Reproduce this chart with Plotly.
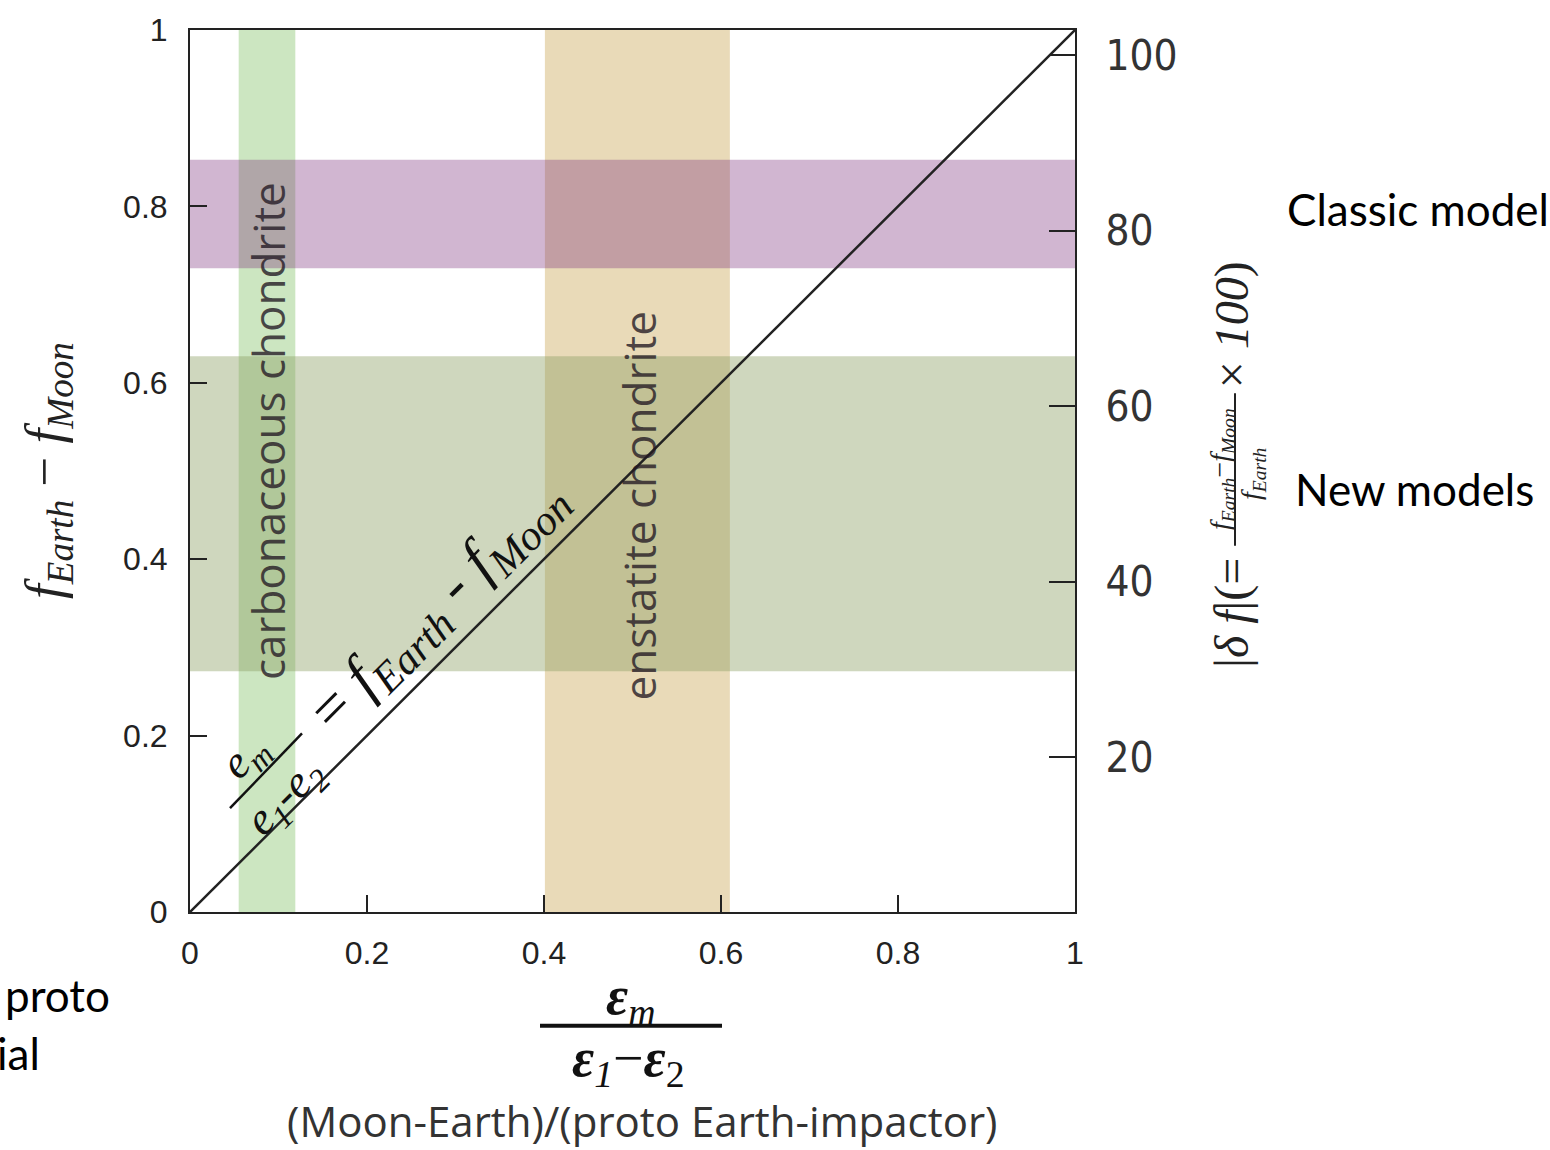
import plotly.graph_objects as go

# ---------------- data ----------------
line_x = [0, 1]
line_y = [0, 1]

vband_labels = ["carbonaceous chondrite", "enstatite chondrite"]
vband_x0 = [0.055, 0.401]
vband_x1 = [0.119, 0.610]
vband_colors = ["#cce6c1", "#e9dab8"]
vband_label_y = [0.545, 0.46]

hband_labels = ["Classic model", "New models"]
hband_y0 = [0.730, 0.273]
hband_y1 = [0.853, 0.630]
hband_colors = ["rgba(124,46,124,0.35)", "rgba(141,160,100,0.42)"]

left_ticks = [0, 0.2, 0.4, 0.6, 0.8, 1]
left_ticklabels = ["0", "0.2", "0.4", "0.6", "0.8", "1"]
bottom_ticks = [0, 0.2, 0.4, 0.6, 0.8, 1]
bottom_ticklabels = ["0", "0.2", "0.4", "0.6", "0.8", "1"]
right_ticks = [20, 40, 60, 80, 100]
right_ticklabels = ["20", "40", "60", "80", "100"]

W, H = 1550, 1150
L, R, T, B = 190, 1075, 28, 912


def px(xp):
    return (xp - L) / (R - L)


def py(yp):
    return (B - yp) / (B - T)


SERIF = "Liberation Serif, Times New Roman, serif"
NARROW = "Liberation Sans Narrow, DejaVu Sans Condensed, Arial Narrow, sans-serif"
SANS = "Open Sans, Liberation Sans, sans-serif"
CAL = "Lato, Open Sans, sans-serif"


def ann(x, y, text, size, family, color="#222", ref="paper", angle=0, xanchor="center"):
    return dict(x=x, y=y, xref=ref, yref=ref, text=text, textangle=angle,
                showarrow=False, xanchor=xanchor, yanchor="middle",
                font=dict(family=family, size=size, color=color))


fig = go.Figure()

fig.add_trace(go.Scatter(x=line_x, y=line_y, mode="lines",
                         line=dict(color="#222222", width=2.5),
                         hoverinfo="skip", showlegend=False))
fig.add_trace(go.Scatter(x=[1] * len(right_ticks), y=right_ticks, mode="markers",
                         marker=dict(opacity=0), yaxis="y2",
                         hoverinfo="skip", showlegend=False))

shapes = []
for x0, x1, c in zip(vband_x0, vband_x1, vband_colors):
    shapes.append(dict(type="rect", xref="x", yref="y", x0=x0, x1=x1, y0=0, y1=1,
                       fillcolor=c, line=dict(width=0), layer="below"))
for y0, y1, c in zip(hband_y0, hband_y1, hband_colors):
    shapes.append(dict(type="rect", xref="x", yref="y", x0=0, x1=1, y0=y0, y1=y1,
                       fillcolor=c, line=dict(width=0), layer="below"))

annotations = []
# band labels (vertical)
for lab, x0, x1, yy in zip(vband_labels, vband_x0, vband_x1, vband_label_y):
    a = ann((x0 + x1) / 2 + 0.002, yy, lab, 44, SANS,
            color="rgba(35,25,35,0.78)", ref="x", angle=-90)
    a["yref"] = "y"
    annotations.append(a)

# model labels on right
annotations.append(ann(px(1285), py(207), hband_labels[0], 44, CAL, "black", xanchor="left"))
annotations.append(ann(px(1293), py(488), hband_labels[1], 44, CAL, "black", xanchor="left"))
# cut-off texts at bottom-left (cropped in the original figure too)
annotations.append(ann(px(112), py(995), "proto", 44, CAL, "black", xanchor="right"))
annotations.append(ann(px(42), py(1053), "ial", 44, CAL, "black", xanchor="right"))

# diagonal formula
a = ann(px(246), py(757), "<i>e</i><sub><i>m</i></sub>", 46, SERIF, "#111", ref="x", angle=-45)
a["yref"] = "y"
annotations.append(a)
a = ann(px(286), py(798), "<i>e</i><sub><i>1</i></sub>-<i>e</i><sub><i>2</i></sub>", 46, SERIF, "#111",
        ref="x", angle=-45)
a["yref"] = "y"
annotations.append(a)
shapes.append(dict(type="line", xref="x", yref="y", x0=px(230), y0=py(808), x1=px(302), y1=py(733),
                   line=dict(color="#111", width=2.5)))
a = ann(px(438), py(605), "= <i>f</i><sub><i>Earth</i></sub> - <i>f</i><sub><i>Moon</i></sub>",
        61, SERIF, "#111", ref="x", angle=-45)
a["yref"] = "y"
annotations.append(a)

# left y title
annotations.append(ann(px(48), py(470),
                       "<i>f</i><sub><i>Earth</i></sub> \u2212 <i>f</i><sub><i>Moon</i></sub>",
                       53, SERIF, "#222", angle=-90))

# right y title pieces
annotations.append(ann(px(1232), py(612), "|<i>\u03b4 f</i>|(=", 48, SERIF, "#222", angle=-90))
annotations.append(ann(px(1221), py(468),
                       "<i>f</i><sub><i>Earth</i></sub>\u2212<i>f</i><sub><i>Moon</i></sub>",
                       28, SERIF, "#222", angle=-90))
annotations.append(ann(px(1253), py(473), "<i>f</i><sub><i>Earth</i></sub>", 28, SERIF, "#222", angle=-90))
shapes.append(dict(type="line", xref="paper", yref="paper", x0=px(1235), x1=px(1235),
                   y0=py(545), y1=py(392), line=dict(color="#222", width=2)))
annotations.append(ann(px(1232), py(324), "\u00d7 <i>100</i>)", 48, SERIF, "#222", angle=-90))

# x title
annotations.append(ann(px(630), py(1000), "<b><i>\u03b5</i></b><sub><i>m</i></sub>", 54, SERIF, "#111"))
shapes.append(dict(type="line", xref="paper", yref="paper", x0=px(540), x1=px(722),
                   y0=py(1026), y1=py(1026), line=dict(color="#111", width=4)))
annotations.append(ann(px(628), py(1062),
                       "<b><i>\u03b5</i></b><sub><i>1</i></sub>\u2212<b><i>\u03b5</i></b><sub>2</sub>",
                       54, SERIF, "#111"))
annotations.append(ann(px(642), py(1121), "(Moon-Earth)/(proto Earth-impactor)", 42, SANS, "#333"))

fig.update_layout(
    width=W, height=H,
    margin=dict(l=L, r=W - R, t=T, b=H - B),
    paper_bgcolor="white", plot_bgcolor="white",
    showlegend=False,
    shapes=shapes,
    annotations=annotations,
    xaxis=dict(range=[0, 1], tickvals=bottom_ticks, ticktext=bottom_ticklabels,
               ticks="inside", ticklen=17, tickwidth=2, tickcolor="#222",
               showline=True, linecolor="#222", linewidth=2, mirror=True,
               showgrid=False, zeroline=False, ticklabelstandoff=12,
               tickfont=dict(family="Liberation Sans, Arial, sans-serif", size=32, color="#222")),
    yaxis=dict(range=[0, 1], tickvals=left_ticks, ticktext=left_ticklabels,
               ticks="inside", ticklen=17, tickwidth=2, tickcolor="#222",
               showline=True, linecolor="#222", linewidth=2, mirror=True,
               showgrid=False, zeroline=False, ticklabelstandoff=14,
               tickfont=dict(family="Liberation Sans, Arial, sans-serif", size=32, color="#222")),
    yaxis2=dict(range=[2.39, 102.84], overlaying="y", side="right",
                tickvals=right_ticks, ticktext=right_ticklabels,
                ticks="inside", ticklen=26, tickwidth=2, tickcolor="#222",
                showline=True, linecolor="#222", linewidth=2,
                showgrid=False, zeroline=False, ticklabelstandoff=20,
                tickfont=dict(family=NARROW, size=42, color="#333")),
)

fig.write_html("out.html")
